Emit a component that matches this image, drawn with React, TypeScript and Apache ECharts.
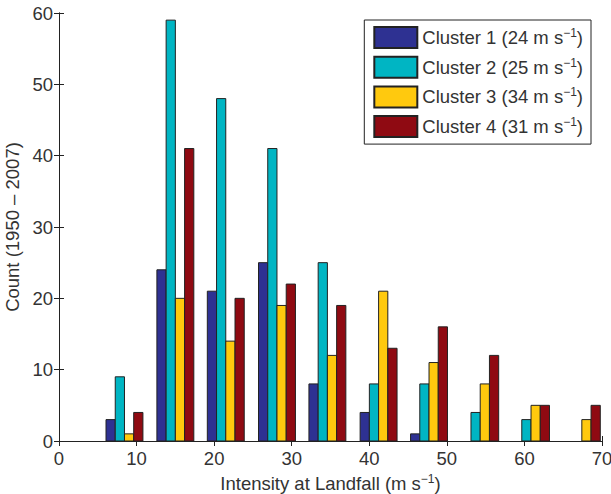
import React, { useEffect, useRef } from "react";
import * as echarts from "echarts";

const binCenters = [8.44, 15.0, 21.5, 28.1, 34.6, 41.2, 47.7, 54.3, 60.85, 67.4];
const cluster1 = [3, 24, 21, 25, 8, 4, 1, 0, 0, 0];
const cluster2 = [9, 59, 48, 41, 25, 8, 8, 4, 3, 0];
const cluster3 = [1, 20, 14, 19, 12, 21, 11, 8, 5, 3];
const cluster4 = [4, 41, 20, 22, 19, 13, 16, 12, 5, 5];
const clusterNames = ["Cluster 1", "Cluster 2", "Cluster 3", "Cluster 4"];
const clusterMeans = [24, 25, 34, 31];
const colors = ["#2E3192", "#00B5C3", "#FFC90E", "#8F0A12"];

const FONT = "Liberation Sans";
const FS = 18.5;
const BAR_W = 1.19; // bar width in x units

export default function App() {
  const ref = useRef<HTMLDivElement>(null);
  useEffect(() => {
    if (!ref.current) return;
    const chart = echarts.init(ref.current, null, { renderer: "svg" });
    const all = [cluster1, cluster2, cluster3, cluster4];
    const series = all.map((vals, k) => ({
      type: "custom",
      name: clusterNames[k],
      xAxisIndex: 0,
      yAxisIndex: 0,
      itemStyle: { color: colors[k], borderColor: "#222", borderWidth: 1 },
      data: vals.map((v, i) => [binCenters[i], v]),
      renderItem: (params: any, api: any) => {
        const c = api.value(0);
        const v = api.value(1);
        if (!v) return null;
        const x0 = c + (k - 2) * BAR_W;
        const p0 = api.coord([x0, v]);
        const p1 = api.coord([x0 + BAR_W, 0]);
        return {
          type: "rect",
          shape: { x: p0[0], y: p0[1], width: p1[0] - p0[0], height: p1[1] - p0[1] },
          style: { fill: colors[k], stroke: "#222", lineWidth: 1 },
        };
      },
    }));
    const axisCommon = {
      axisLine: { show: true, lineStyle: { color: "#222", width: 1 } },
      axisTick: { show: true, inside: true, length: 5, lineStyle: { color: "#222" } },
      splitLine: { show: false },
    };
    chart.setOption({
      animation: false,
      backgroundColor: "#ffffff",
      textStyle: { fontFamily: FONT },
      grid: {
        left: 59,
        right: 9,
        top: 13,
        bottom: 53,
        containLabel: false,
        outerBoundsMode: "none",
      },
      legend: {
        orient: "vertical",
        right: 20,
        top: 20,
        itemWidth: 43,
        itemHeight: 21,
        itemGap: 6.7,
        padding: [6, 8, 6, 9],
        borderColor: "#222",
        borderWidth: 1,
        backgroundColor: "#ffffff",
        icon: "rect",
        data: clusterNames,
        formatter: (name: string) => {
          const i = clusterNames.indexOf(name);
          return `{t|${name} (${clusterMeans[i]} m s}{sup|\u22121}{t|)}`;
        },
        textStyle: {
          fontFamily: FONT,
          color: "#333",
          fontSize: FS,
          rich: {
            t: { fontFamily: FONT, fontSize: FS, color: "#333", lineHeight: 21 },
            sup: { fontFamily: FONT, fontSize: 12, color: "#333", lineHeight: 21, padding: [0, 0, 9, 0] },
          },
        },
      },
      xAxis: [
        {
          type: "value",
          min: 0,
          max: 70,
          interval: 10,
          position: "bottom",
          ...axisCommon,
          axisLabel: { color: "#333", fontSize: FS, fontFamily: FONT, margin: 8 },
          name: "{t|Intensity at Landfall (m s}{sup|\u22121}{t|)}",
          nameLocation: "middle",
          nameGap: 29,
          nameTextStyle: {
            fontFamily: FONT,
            fontSize: FS,
            color: "#333",
            rich: {
              t: { fontFamily: FONT, fontSize: FS, color: "#333", lineHeight: 21 },
              sup: { fontFamily: FONT, fontSize: 12, color: "#333", lineHeight: 21, padding: [0, 0, 9, 0] },
            },
          },
        },
        {
          type: "value",
          min: 0,
          max: 70,
          interval: 10,
          position: "top",
          ...axisCommon,
          axisLabel: { show: false },
        },
      ],
      yAxis: [
        {
          type: "value",
          min: 0,
          max: 60,
          interval: 10,
          position: "left",
          ...axisCommon,
          axisLabel: { color: "#333", fontSize: FS, fontFamily: FONT, margin: 6 },
          name: "Count (1950 \u2013 2007)",
          nameLocation: "middle",
          nameGap: 32,
          nameRotate: 90,
          nameTextStyle: { fontFamily: FONT, fontSize: FS, color: "#333" },
        },
        {
          type: "value",
          min: 0,
          max: 60,
          interval: 10,
          position: "right",
          ...axisCommon,
          axisLabel: { show: false },
        },
      ],
      series,
    });
    return () => chart.dispose();
  }, []);
  return (
    <div
      ref={ref}
      style={{ position: "absolute", left: 0, top: 0, width: 611, height: 494 }}
    />
  );
}
